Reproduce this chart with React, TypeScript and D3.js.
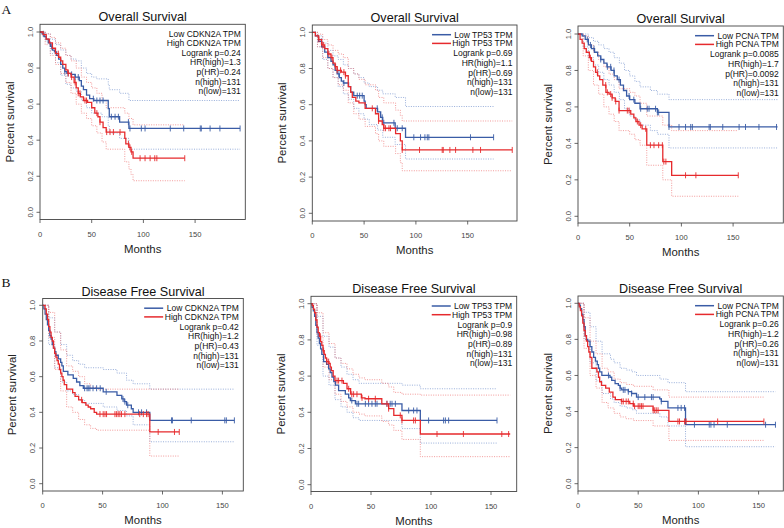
import React from "react";
import * as d3 from "d3";

type Pt = [number, number];

// ---------- shared labels ----------
const titles = ["Overall Survival", "Overall Survival", "Overall Survival", "Disease Free Survival", "Disease Free Survival", "Disease Free Survival"];
const genes = ["CDKN2A", "TP53", "PCNA", "CDKN2A", "TP53", "PCNA"];
const logrankP = ["0.24", "0.69", "0.0085", "0.42", "0.9", "0.26"];
const hrHigh = ["1.3", "1.1", "1.7", "1.2", "0.98", "1.2"];
const pHR = ["0.24", "0.69", "0.0092", "0.43", "0.89", "0.26"];
const nHigh = [131, 131, 131, 131, 131, 131];
const nLow = [131, 131, 131, 131, 131, 131];
const yTicks = [0, 0.2, 0.4, 0.6, 0.8, 1.0];
const xTicks = [0, 50, 100, 150];

// ---------- Panel 1: OS CDKN2A ----------
const p1Low: Pt[] = [[0,1],[2,0.99],[4,0.975],[6,0.96],[8,0.94],[10,0.92],[12,0.90],[14,0.89],[16,0.87],[18,0.85],[20,0.82],[22,0.80],[24,0.78],[26,0.77],[30,0.765],[34,0.75],[38,0.73],[40,0.70],[42,0.68],[45,0.65],[48,0.63],[52,0.62],[66,0.575],[67,0.53],[77,0.50],[86,0.465],[193.5,0.465]];
const p1LowCens = [3.2,11.3,24,27,30.6,34,37,51.6,55,58,61,69,72.6,75.8,85.5,87,98,101.6,126,139,155,156,164.5,174,193.5];
const p1High: Pt[] = [[0,1],[3,0.985],[6,0.96],[9,0.94],[12,0.91],[15,0.88],[18,0.86],[20,0.84],[22,0.82],[25,0.79],[27,0.77],[30,0.75],[33,0.72],[35,0.69],[37,0.66],[39,0.64],[42,0.62],[46,0.61],[50,0.58],[53,0.55],[56,0.53],[58,0.50],[61,0.47],[64,0.445],[82,0.41],[83,0.38],[86,0.36],[88,0.335],[90,0.30],[140,0.30]];
const p1HighCens = [17.7,27.4,30.6,34,37,38.7,43.5,45,55,58,64.5,67.7,71,77.4,85.5,87,88.7,96.8,101.6,106.5,111,113,140];
const p1LowUp: Pt[] = [[0,1],[5,0.99],[10,0.96],[15,0.93],[20,0.9],[25,0.87],[30,0.85],[35,0.84],[40,0.80],[45,0.77],[50,0.75],[55,0.74],[66,0.71],[67,0.68],[77,0.66],[86,0.62],[193.5,0.62]];
const p1LowLo: Pt[] = [[0,1],[5,0.95],[10,0.88],[15,0.83],[20,0.76],[25,0.71],[30,0.69],[35,0.67],[40,0.62],[45,0.58],[50,0.55],[60,0.53],[66,0.48],[67,0.44],[77,0.41],[86,0.35],[193.5,0.35]];
const p1HighUp: Pt[] = [[0,1],[5,0.99],[10,0.97],[15,0.94],[20,0.91],[25,0.87],[30,0.84],[35,0.80],[40,0.75],[45,0.72],[50,0.69],[55,0.66],[60,0.62],[64,0.58],[82,0.55],[86,0.52],[90,0.485],[140,0.485]];
const p1HighLo: Pt[] = [[0,1],[5,0.93],[10,0.87],[15,0.82],[20,0.77],[25,0.72],[30,0.66],[35,0.6],[40,0.55],[45,0.52],[50,0.48],[55,0.44],[60,0.39],[64,0.35],[82,0.28],[86,0.24],[88,0.21],[90,0.175],[140,0.175]];

// ---------- Panel 2: OS TP53 ----------
const p2Low: Pt[] = [[0,1],[3,0.98],[6,0.95],[9,0.92],[12,0.89],[15,0.86],[18,0.84],[20,0.82],[22,0.79],[24,0.77],[26,0.75],[28,0.73],[30,0.72],[35,0.70],[37,0.67],[40,0.65],[50,0.62],[51,0.60],[52,0.58],[63,0.56],[66,0.53],[68,0.50],[80,0.47],[90,0.42],[175,0.42]];
const p2LowCens = [8.7,25.7,30.5,43.4,45.7,48.2,62.7,67.5,69,78.8,82,86.8,98,104.5,108.7,111,112.5,152.7,175];
const p2High: Pt[] = [[0,1],[3,0.98],[6,0.96],[9,0.93],[12,0.91],[15,0.88],[18,0.86],[20,0.83],[22,0.81],[24,0.79],[28,0.78],[32,0.76],[34.7,0.70],[37,0.67],[38.6,0.64],[42,0.62],[45,0.61],[51,0.58],[61,0.55],[64,0.51],[67.5,0.49],[69,0.47],[80.4,0.44],[85,0.40],[86.8,0.35],[193,0.35]];
const p2HighCens = [6.4,9.6,11,16,19,22.5,24,27.3,30.5,32,57.9,64,69,70.7,74,75.5,86.8,103.5,125.4,126.4,132.8,138.3,155,162.4,193];
const p2LowUp: Pt[] = [[0,1],[5,0.98],[10,0.94],[15,0.90],[20,0.87],[25,0.85],[30,0.82],[35,0.80],[40,0.77],[45,0.75],[50,0.72],[55,0.70],[63,0.68],[68,0.66],[80,0.64],[90,0.59],[175,0.59]];
const p2LowLo: Pt[] = [[0,1],[5,0.92],[10,0.85],[15,0.80],[20,0.75],[25,0.70],[30,0.66],[35,0.63],[40,0.58],[45,0.55],[50,0.52],[55,0.49],[63,0.46],[68,0.42],[80,0.38],[90,0.30],[175,0.30]];
const p2HighUp: Pt[] = [[0,1],[5,0.99],[10,0.96],[15,0.93],[20,0.90],[25,0.88],[30,0.86],[34.7,0.80],[40,0.77],[45,0.74],[51,0.71],[61,0.68],[64,0.64],[69,0.61],[80.4,0.57],[85,0.54],[86.8,0.51],[193,0.51]];
const p2HighLo: Pt[] = [[0,1],[5,0.92],[10,0.86],[15,0.80],[20,0.75],[25,0.71],[30,0.68],[34.7,0.61],[40,0.55],[45,0.52],[51,0.48],[61,0.44],[64,0.40],[69,0.37],[80.4,0.33],[85,0.28],[86.8,0.235],[193,0.235]];

// ---------- Panel 3: OS PCNA ----------
const p3Low: Pt[] = [[0,1],[4,0.99],[7,0.97],[10,0.94],[13,0.92],[16,0.90],[19,0.88],[22,0.86],[25,0.84],[28,0.82],[32,0.80],[35,0.77],[38,0.75],[41,0.72],[44,0.69],[47,0.66],[50,0.64],[55,0.62],[60,0.59],[76.8,0.57],[88,0.49],[193,0.49]];
const p3LowCens = [9,12,15.5,22,28.4,31.6,34.8,39.7,49.4,54,60.6,67,68.7,75,76.8,78,88,97.7,104,109,110.6,126.8,128,140,155.8,162,175,192];
const p3High: Pt[] = [[0,1],[2,0.97],[4,0.95],[6,0.92],[8,0.90],[11,0.87],[13,0.85],[15,0.82],[17,0.79],[19,0.77],[21,0.75],[24,0.72],[27,0.68],[30,0.67],[33,0.65],[36,0.63],[39.7,0.58],[51,0.56],[54,0.54],[56,0.52],[59,0.50],[62,0.48],[66.5,0.39],[82,0.30],[90.6,0.225],[155,0.225]];
const p3HighCens = [12,18.7,26.8,28.4,31.6,33,36.5,39.7,47.7,49.4,57.4,60.6,65.5,70,73.5,78,81.6,83,85,104,114,155];
const p3LowUp: Pt[] = [[0,1],[5,1],[10,0.98],[15,0.96],[20,0.94],[25,0.92],[30,0.90],[35,0.87],[40,0.84],[45,0.80],[50,0.77],[55,0.74],[60,0.71],[70,0.69],[76.8,0.67],[88,0.64],[193,0.64]];
const p3LowLo: Pt[] = [[0,1],[5,0.93],[10,0.87],[15,0.83],[20,0.79],[25,0.75],[30,0.72],[35,0.68],[40,0.64],[45,0.59],[50,0.55],[55,0.53],[60,0.50],[70,0.47],[76.8,0.45],[88,0.375],[193,0.375]];
const p3HighUp: Pt[] = [[0,1],[5,0.99],[10,0.94],[15,0.90],[20,0.86],[25,0.82],[30,0.78],[35,0.75],[39.7,0.70],[50,0.68],[55,0.66],[60,0.62],[66.5,0.55],[82,0.50],[90.6,0.47],[155,0.47]];
const p3HighLo: Pt[] = [[0,1],[5,0.88],[10,0.80],[15,0.72],[20,0.67],[25,0.60],[30,0.56],[35,0.52],[39.7,0.47],[50,0.45],[55,0.42],[60,0.39],[66.5,0.28],[82,0.20],[90.6,0.11],[155,0.11]];

// ---------- Panel 4: DFS CDKN2A ----------
const p4Low: Pt[] = [[0,1],[1,0.98],[2,0.95],[3,0.92],[4,0.89],[5,0.86],[6,0.83],[7,0.81],[8,0.78],[9,0.76],[10,0.74],[11,0.72],[13,0.70],[15,0.68],[16,0.66],[17.2,0.63],[21,0.61],[25.5,0.59],[28.3,0.57],[31,0.55],[33.9,0.535],[50.5,0.515],[62,0.495],[66,0.475],[68,0.46],[70,0.44],[74,0.42],[75.5,0.40],[89.4,0.355],[160,0.355]];
const p4LowCens = [35,37,38,39.4,42,45,48,53,67,68.6,71,80,82.5,86.7,107.5,108.3,124,152,153.3,160];
const p4High: Pt[] = [[0,1],[2,0.98],[3,0.95],[4,0.92],[5,0.88],[6,0.85],[7,0.82],[8,0.80],[9,0.76],[10,0.73],[11,0.71],[12,0.69],[13,0.67],[14,0.64],[15,0.62],[16,0.60],[17,0.58],[18,0.555],[20,0.53],[25,0.51],[27,0.49],[30,0.47],[33,0.455],[36,0.44],[38,0.43],[40,0.42],[43,0.40],[45,0.39],[89.4,0.29],[114,0.29]];
const p4HighCens = [32.5,47.8,50.5,52,53.3,60.3,61.7,63,64.4,65.8,68.6,81,84,86.7,88,96.4,110,114];
const p4LowUp: Pt[] = [[0,1],[5,0.93],[10,0.85],[15,0.78],[20,0.72],[25,0.69],[30,0.67],[35,0.65],[50.5,0.64],[62,0.62],[70,0.58],[75.5,0.56],[89.4,0.53],[160,0.53]];
const p4LowLo: Pt[] = [[0,1],[5,0.78],[10,0.65],[15,0.57],[20,0.52],[25,0.50],[30,0.47],[35,0.45],[50.5,0.43],[62,0.41],[70,0.38],[75.5,0.33],[89.4,0.235],[160,0.235]];
const p4HighUp: Pt[] = [[0,1],[5,0.96],[10,0.85],[15,0.75],[20,0.66],[25,0.63],[30,0.60],[35,0.56],[40,0.54],[45,0.53],[114,0.53]];
const p4HighLo: Pt[] = [[0,1],[5,0.82],[10,0.64],[15,0.52],[20,0.43],[25,0.40],[30,0.36],[35,0.33],[40,0.31],[45,0.30],[89.4,0.155],[114,0.155]];

// ---------- Panel 5: DFS TP53 ----------
const p5Low: Pt[] = [[0,1],[1,0.98],[2,0.96],[3,0.93],[4,0.88],[5,0.84],[6,0.81],[7,0.78],[8,0.75],[9,0.72],[10.5,0.68],[13,0.665],[14.7,0.64],[16,0.62],[17.5,0.595],[19,0.57],[20.3,0.55],[23,0.52],[28.6,0.50],[31.4,0.48],[32.8,0.465],[37,0.447],[75.8,0.41],[91.1,0.355],[155,0.355]];
const p5LowCens = [34,38.3,39.7,45.3,48,50.8,53.6,55,63.3,66,67.5,70.3,81.4,85.5,88.3,98,110.5,112,114.7,155];
const p5High: Pt[] = [[0,1],[1,0.99],[2,0.97],[3,0.95],[4,0.91],[5,0.87],[6,0.84],[7,0.82],[8,0.79],[9,0.77],[10,0.74],[11,0.72],[12,0.70],[13,0.68],[15,0.67],[16,0.65],[17,0.63],[18.5,0.60],[20,0.575],[27,0.56],[30,0.53],[33,0.50],[42,0.48],[45,0.475],[59,0.447],[64.7,0.42],[69,0.383],[75.8,0.355],[91.1,0.28],[166,0.28]];
const p5HighCens = [7.8,10.5,13.3,14.7,21.7,23,25.8,31.4,34,35.5,38.3,42.5,48,53.6,63.3,64.7,74.4,75.8,85.5,87,105,127,159,164.7];
const p5LowUp: Pt[] = [[0,1],[5,0.93],[10,0.82],[15,0.76],[20,0.70],[25,0.65],[30,0.61],[35,0.58],[40,0.56],[75.8,0.55],[91.1,0.53],[155,0.53]];
const p5LowLo: Pt[] = [[0,1],[5,0.77],[10,0.60],[15,0.55],[20,0.47],[25,0.43],[30,0.40],[35,0.37],[40,0.355],[75.8,0.31],[91.1,0.23],[155,0.23]];
const p5HighUp: Pt[] = [[0,1],[5,0.95],[10,0.84],[15,0.78],[20,0.70],[25,0.67],[30,0.64],[35,0.61],[40,0.59],[45,0.58],[59,0.56],[64.7,0.54],[69,0.51],[75.8,0.50],[91.1,0.495],[166,0.495]];
const p5HighLo: Pt[] = [[0,1],[5,0.82],[10,0.65],[15,0.58],[20,0.50],[25,0.46],[30,0.43],[35,0.40],[40,0.39],[45,0.38],[59,0.35],[64.7,0.33],[69,0.30],[75.8,0.25],[91.1,0.155],[166,0.155]];

// ---------- Panel 6: DFS PCNA ----------
const p6Low: Pt[] = [[0,1],[1,0.99],[2,0.97],[3,0.94],[4,0.91],[5,0.87],[6,0.82],[7,0.80],[8,0.79],[10,0.76],[11.5,0.73],[13,0.70],[14.5,0.68],[16,0.66],[17,0.64],[18,0.62],[19.8,0.60],[26.6,0.59],[28,0.573],[30.8,0.555],[33.5,0.545],[35,0.53],[36.3,0.52],[41.8,0.51],[44.5,0.50],[48.6,0.48],[67.9,0.47],[69.2,0.456],[74.7,0.42],[89.3,0.327],[164,0.327]];
const p6LowCens = [25.3,35,37.6,39,41.8,44.5,50,55.5,61,62.4,69.2,83,85.7,88.5,96.7,109,110.4,113,124,155.8,164];
const p6High: Pt[] = [[0,1],[1,0.98],[2,0.96],[3,0.93],[4,0.89],[5,0.85],[6,0.82],[7,0.79],[8,0.76],[9,0.73],[10,0.70],[11.5,0.64],[15.7,0.62],[17,0.59],[18,0.565],[19.5,0.545],[23,0.53],[26,0.508],[29,0.48],[31,0.466],[36,0.456],[43,0.444],[46,0.43],[62.4,0.407],[75.5,0.345],[154.4,0.345]];
const p6HighCens = [36.3,37.6,40,41.8,45.9,47,50,51.4,52.7,54,62.4,63.7,65,66.5,83,84.3,88.5,89.8,116,154.4];
const p6LowUp: Pt[] = [[0,1],[5,0.95],[10,0.87],[15,0.79],[20,0.72],[27,0.69],[30,0.67],[35,0.64],[40,0.63],[45,0.62],[48.6,0.60],[68,0.58],[74.7,0.56],[89.3,0.51],[164,0.51]];
const p6LowLo: Pt[] = [[0,1],[5,0.80],[10,0.67],[15,0.57],[20,0.50],[27,0.47],[30,0.45],[35,0.43],[40,0.42],[45,0.41],[48.6,0.39],[68,0.37],[74.7,0.32],[89.3,0.205],[164,0.205]];
const p6HighUp: Pt[] = [[0,1],[5,0.92],[10,0.79],[15,0.72],[20,0.64],[25,0.62],[30,0.58],[35,0.56],[40,0.55],[46,0.54],[62.4,0.52],[75.5,0.48],[154.4,0.48]];
const p6HighLo: Pt[] = [[0,1],[5,0.75],[10,0.60],[15,0.53],[20,0.45],[25,0.42],[30,0.39],[35,0.37],[40,0.36],[46,0.35],[62.4,0.32],[75.5,0.24],[154.4,0.24]];

// ---------- layout (pixels) ----------
type Box = { L: number; R: number; T: number; B: number; y1: number; y0: number; px50: number };
const boxes: Box[] = [
  { L: 40, R: 245.3, T: 24.3, B: 219.5, y1: 32, y0: 212.3, px50: 51.7 },
  { L: 312.3, R: 517, T: 25, B: 221, y1: 32.3, y0: 213.3, px50: 51.8 },
  { L: 578, R: 783.3, T: 26, B: 223, y1: 34, y0: 216.3, px50: 51.7 },
  { L: 42.7, R: 243.3, T: 298.5, B: 491, y1: 305.3, y0: 483.7, px50: 59.9 },
  { L: 311, R: 516.7, T: 296.3, B: 491.5, y1: 303.7, y0: 484.7, px50: 60 },
  { L: 578, R: 783.3, T: 296, B: 491, y1: 303.3, y0: 483.7, px50: 60.2 },
];
const legendLines = [false, true, true, true, true, true];

const lowSets = [p1Low, p2Low, p3Low, p4Low, p5Low, p6Low];
const highSets = [p1High, p2High, p3High, p4High, p5High, p6High];
const lowCensSets = [p1LowCens, p2LowCens, p3LowCens, p4LowCens, p5LowCens, p6LowCens];
const highCensSets = [p1HighCens, p2HighCens, p3HighCens, p4HighCens, p5HighCens, p6HighCens];
const lowUpSets = [p1LowUp, p2LowUp, p3LowUp, p4LowUp, p5LowUp, p6LowUp];
const lowLoSets = [p1LowLo, p2LowLo, p3LowLo, p4LowLo, p5LowLo, p6LowLo];
const highUpSets = [p1HighUp, p2HighUp, p3HighUp, p4HighUp, p5HighUp, p6HighUp];
const highLoSets = [p1HighLo, p2HighLo, p3HighLo, p4HighLo, p5HighLo, p6HighLo];

const BLUE = "#3a5ca6";
const RED = "#e62a2d";
const BLUE_CI = "#7f9bd0";
const RED_CI = "#ef8080";
const FONT = '"Liberation Sans", Arial, Helvetica, sans-serif';
const LEG_SIZE = 8.5;

const stepAt = (pts: Pt[], t: number) => {
  let s = pts[0][1];
  for (const [pt, ps] of pts) {
    if (pt <= t) s = ps;
    else break;
  }
  return s;
};

let measureCtx: CanvasRenderingContext2D | null = null;
const measure = (s: string) => {
  if (!measureCtx) measureCtx = document.createElement("canvas").getContext("2d");
  if (!measureCtx) return s.length * LEG_SIZE * 0.55;
  measureCtx.font = `${LEG_SIZE}px "Liberation Sans"`;
  return measureCtx.measureText(s).width;
};

function Panel({ i }: { i: number }) {
  const b = boxes[i];
  const x = d3.scaleLinear().domain([0, 50]).range([b.L, b.L + b.px50]);
  const y = d3.scaleLinear().domain([0, 1]).range([b.y0, b.y1]);
  const line = d3
    .line<Pt>()
    .x((d) => x(d[0]))
    .y((d) => y(d[1]))
    .curve(d3.curveStepAfter);
  const legendTexts = [
    `Low ${genes[i]} TPM`,
    `High ${genes[i]} TPM`,
    `Logrank p=${logrankP[i]}`,
    `HR(high)=${hrHigh[i]}`,
    `p(HR)=${pHR[i]}`,
    `n(high)=${nHigh[i]}`,
    `n(low)=${nLow[i]}`,
  ];
  const legOffsets = [12.7, 21.4, 31.2, 40.9, 50.6, 60.2, 69.8];
  const legRight = b.R - 4.5;
  const lineEnd = legRight - measure(legendTexts[1]) - 1;
  const midY = (b.T + b.B) / 2;
  const midX = (b.L + b.R) / 2;

  const groups = [
    { pts: lowSets[i], cens: lowCensSets[i], up: lowUpSets[i], lo: lowLoSets[i], c: BLUE, ci: BLUE_CI },
    { pts: highSets[i], cens: highCensSets[i], up: highUpSets[i], lo: highLoSets[i], c: RED, ci: RED_CI },
  ];

  return (
    <g>
      <defs>
        <clipPath id={`clip${i}`}>
          <rect x={b.L} y={b.T} width={b.R - b.L} height={b.B - b.T} />
        </clipPath>
      </defs>
      {/* title */}
      <text x={midX} y={b.T - 3} textAnchor="middle" fontFamily={FONT} fontSize={12.6} fill="#111">
        {titles[i]}
      </text>
      {/* CI */}
      <g clipPath={`url(#clip${i})`}>
        {groups.map((g, k) => (
          <g key={"ci" + k}>
            <path d={line(g.up) || ""} fill="none" stroke={g.ci} strokeWidth={0.8} strokeDasharray="1,1.4" />
            <path d={line(g.lo) || ""} fill="none" stroke={g.ci} strokeWidth={0.8} strokeDasharray="1,1.4" />
          </g>
        ))}
        {groups.map((g, k) => (
          <g key={"cv" + k}>
            <path d={line(g.pts) || ""} fill="none" stroke={g.c} strokeWidth={1.3} />
            {g.cens.map((t, j) => {
              const cy = y(stepAt(g.pts, t));
              return <line key={j} x1={x(t)} x2={x(t)} y1={cy - 3} y2={cy + 3} stroke={g.c} strokeWidth={0.9} />;
            })}
          </g>
        ))}
      </g>
      {/* box */}
      <rect x={b.L} y={b.T} width={b.R - b.L} height={b.B - b.T} fill="none" stroke="#444" strokeWidth={0.9} />
      {/* y axis */}
      {yTicks.map((v) => (
        <g key={"y" + v}>
          <line x1={b.L - 3.5} x2={b.L} y1={y(v)} y2={y(v)} stroke="#444" strokeWidth={0.8} />
          <text
            transform={`translate(${b.L - 7.5},${y(v)}) rotate(-90)`}
            textAnchor="middle"
            fontFamily={FONT}
            fontSize={7.6}
            fill="#444"
          >
            {d3.format(".1f")(v)}
          </text>
        </g>
      ))}
      {/* x axis */}
      {xTicks.map((v) => (
        <g key={"x" + v}>
          <line x1={x(v)} x2={x(v)} y1={b.B} y2={b.B + 3.5} stroke="#444" strokeWidth={0.8} />
          <text x={x(v)} y={b.B + 17.3} textAnchor="middle" fontFamily={FONT} fontSize={7.6} fill="#444">
            {v}
          </text>
        </g>
      ))}
      <text x={midX} y={b.B + 33} textAnchor="middle" fontFamily={FONT} fontSize={11.4} fill="#222">
        Months
      </text>
      <text
        transform={`translate(${b.L - 26.5},${midY}) rotate(-90)`}
        textAnchor="middle"
        fontFamily={FONT}
        fontSize={11.4}
        fill="#222"
      >
        Percent survival
      </text>
      {/* legend */}
      {legendLines[i] &&
        [BLUE, RED].map((c, k) => (
          <line
            key={"ll" + k}
            x1={lineEnd - 19}
            x2={lineEnd}
            y1={b.T + legOffsets[k] - 3}
            y2={b.T + legOffsets[k] - 3}
            stroke={c}
            strokeWidth={1.5}
          />
        ))}
      {legendTexts.map((s, k) => (
        <text key={"lt" + k} x={legRight} y={b.T + legOffsets[k]} textAnchor="end" fontFamily={FONT} fontSize={LEG_SIZE} fill="#111">
          {s}
        </text>
      ))}
    </g>
  );
}

export default function App() {
  return (
    <svg
      width={784}
      height={528}
      viewBox="0 0 784 528"
      style={{ position: "absolute", left: 0, top: 0, background: "#fff" }}
    >
      <rect x={0} y={0} width={784} height={528} fill="#fff" />
      <text x={1.5} y={14} fontFamily='"Liberation Serif", "Times New Roman", serif' fontSize={13.5} fill="#111">
        A
      </text>
      <text x={1.5} y={287} fontFamily='"Liberation Serif", "Times New Roman", serif' fontSize={13.5} fill="#111">
        B
      </text>
      {boxes.map((_, i) => (
        <Panel key={i} i={i} />
      ))}
    </svg>
  );
}
